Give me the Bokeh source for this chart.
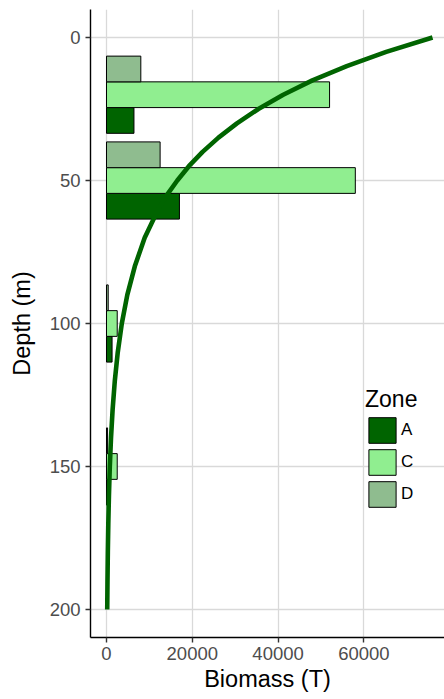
from bokeh.plotting import figure
from bokeh.models import Range1d, FixedTicker, Legend, LegendItem, ColumnDataSource
from bokeh.transform import dodge
from bokeh.embed import file_html
from bokeh.resources import INLINE

# Biomass by depth, one series per zone
depths = [20, 50, 100, 150]
zone_A = [6400, 17000, 1300, 300]
zone_C = [52000, 58000, 2500, 2500]
zone_D = [8000, 12500, 400, 250]

# Fitted biomass-with-depth curve
curve_depth = [0, 5, 10, 15, 20, 25, 30, 35, 40, 45, 50, 55, 60, 70, 80, 90,
               100, 110, 120, 130, 140, 150, 160, 170, 180, 190, 200]
curve_biomass = [76000, 65200, 56000, 48000, 41200, 35400, 30400, 26100, 22400,
                 19200, 16500, 14100, 12100, 8900, 6600, 4850, 3570, 2630, 1940,
                 1430, 1050, 770, 570, 420, 310, 230, 170]

x_ticks = [0, 20000, 40000, 60000]
x_tick_labels = ["0", "20000", "40000", "60000"]
y_ticks = [0, 50, 100, 150, 200]
y_tick_labels = ["0", "50", "100", "150", "200"]

zones = ["A", "C", "D"]
zone_colors = {"A": "#006400", "C": "#90EE90", "D": "#8FBC8F"}
zone_offsets = {"A": 9.0, "C": 0.0, "D": -9.0}
bar_height = 9.0

FONT = "Liberation Sans"

p = figure(width=444, height=699,
           x_range=Range1d(-3730, 78790), y_range=Range1d(209.8, -9.8),
           output_backend="svg", toolbar_location=None,
           min_border_left=90, min_border_right=0,
           min_border_top=9, min_border_bottom=62)
p.outline_line_color = None
p.background_fill_color = "white"
p.border_fill_color = "white"

src = ColumnDataSource(data=dict(depth=depths, A=zone_A, C=zone_C, D=zone_D))

renderers = {}
for z in zones:
    renderers[z] = p.hbar(y=dodge("depth", zone_offsets[z], range=p.y_range),
                          left=0, right=z, height=bar_height, source=src,
                          fill_color=zone_colors[z], line_color="black",
                          line_width=1)

p.line(curve_biomass, curve_depth, line_color="#006400", line_width=4.6,
       line_join="round")

# Axes
for ax, ticks, labels in ((p.xaxis, x_ticks, x_tick_labels),
                          (p.yaxis, y_ticks, y_tick_labels)):
    ax.ticker = FixedTicker(ticks=ticks)
    ax.major_label_overrides = {t: l for t, l in zip(ticks, labels)}
    ax.axis_line_color = "black"
    ax.axis_line_width = 1.4
    ax.major_tick_line_color = "#333333"
    ax.major_tick_line_width = 1.4
    ax.major_tick_out = 5
    ax.major_tick_in = 0
    ax.minor_tick_line_color = None
    ax.major_label_text_font = FONT
    ax.major_label_text_font_size = "18.5px"
    ax.major_label_text_color = "#4D4D4D"
    ax.axis_label_text_font = FONT
    ax.axis_label_text_font_size = "23.5px"
    ax.axis_label_text_font_style = "normal"
    ax.axis_label_text_color = "black"

p.xaxis.axis_label = "Biomass (T)"
p.xaxis.major_label_standoff = 4
p.xaxis.axis_label_standoff = 3
p.yaxis.axis_label = "Depth (m)"
p.yaxis.major_label_standoff = 5
p.yaxis.axis_label_standoff = 12

p.xgrid.ticker = FixedTicker(ticks=x_ticks)
p.ygrid.ticker = FixedTicker(ticks=y_ticks)
for g in (p.xgrid, p.ygrid):
    g.grid_line_color = "#D9D9D9"
    g.grid_line_width = 1.3

legend = Legend(items=[LegendItem(label=z, renderers=[renderers[z]]) for z in zones],
                title="Zone", location=(275, 127))
legend.title_text_font = FONT
legend.title_text_font_size = "23px"
legend.title_text_font_style = "normal"
legend.title_text_color = "black"
legend.title_standoff = 1
legend.label_text_font = FONT
legend.label_text_font_size = "17px"
legend.label_text_color = "black"
legend.glyph_width = 34
legend.glyph_height = 32
legend.label_height = 32
legend.label_standoff = 2
legend.spacing = 0
legend.padding = 0
legend.margin = 0
legend.border_line_color = None
legend.background_fill_alpha = 0
p.add_layout(legend, "center")

open("out.html", "w").write(file_html(p, INLINE))
